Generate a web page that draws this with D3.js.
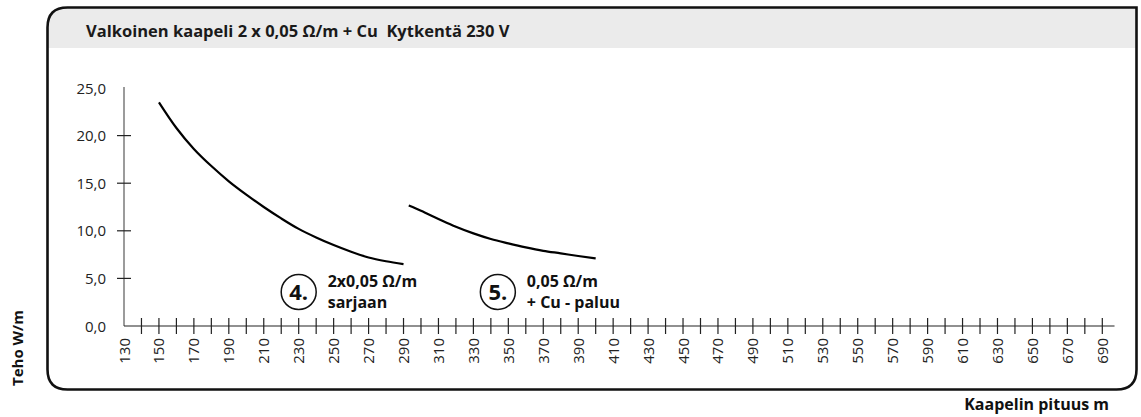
<!DOCTYPE html>
<html>
<head>
<meta charset="utf-8">
<script src="https://cdn.jsdelivr.net/npm/d3@7/dist/d3.min.js"></script>
<style>
  html, body { margin: 0; padding: 0; background: #fff; }
  svg { display: block; font-family: "Open Sans", "Noto Sans", sans-serif; }
  text { white-space: pre; }
</style>
</head>
<body>
<svg id="chart" width="1141" height="417"></svg>
<script>
// Cable length (m) and heating power (W/m) for the two connection options
const series4Length = [150, 160, 170, 180, 190, 200, 210, 220, 230, 240, 250, 260, 270, 280, 290];
const series4Power  = [23.5, 20.8, 18.6, 16.8, 15.2, 13.8, 12.5, 11.3, 10.2, 9.3, 8.5, 7.8, 7.2, 6.8, 6.5];
const series5Length = [293, 300, 310, 320, 330, 340, 350, 360, 370, 380, 390, 400];
const series5Power  = [12.65, 12.1, 11.25, 10.43, 9.73, 9.14, 8.68, 8.26, 7.9, 7.63, 7.35, 7.1];

const yTickValues = [0, 5, 10, 15, 20, 25];
const yTickLabels = ["0,0", "5,0", "10,0", "15,0", "20,0", "25,0"];
const xMinorTicks = d3.range(140, 691, 10);
const xLabelTicks = d3.range(130, 691, 20);

const titleText = "Valkoinen kaapeli 2 x 0,05 \u03A9/m + Cu  Kytkent\u00E4 230 V";
const yAxisTitle = "Teho W/m";
const xAxisTitle = "Kaapelin pituus m";
const notes = [
  { num: "4.", at: 230, lines: ["2x0,05 \u03A9/m", "sarjaan"] },
  { num: "5.", at: 344, lines: ["0,05 \u03A9/m", "+ Cu - paluu"] }
];

const svg = d3.select("#chart");

// Frame: rounded panel with a grey header band
const L = 47.5, T = 7.5, R = 1136.5, B = 389.5, r = 20, headerB = 48;
svg.append("path")
  .attr("d", `M${L},${headerB} V${T + r} Q${L},${T} ${L + r},${T} H${R} V${headerB} Z`)
  .attr("fill", "#ebebeb");
svg.append("path")
  .attr("d", `M${L + r},${T} H${R} V${B - r} Q${R},${B} ${R - r},${B} H${L + r} Q${L},${B} ${L},${B - r} V${T + r} Q${L},${T} ${L + r},${T} Z`)
  .attr("fill", "none").attr("stroke", "#111").attr("stroke-width", 2.6);

svg.append("text")
  .attr("x", 86).attr("y", 37)
  .attr("font-size", 16.5).attr("font-weight", 700).attr("fill", "#1a1a1a")
  .text(titleText);

// Scales
const x = d3.scaleLinear().domain([130, 690]).range([124, 1102.3]);
const y = d3.scaleLinear().domain([0, 25]).range([326, 88]);

// Y axis
svg.append("line")
  .attr("x1", x(130)).attr("x2", x(130)).attr("y1", y(25) - 1).attr("y2", y(0))
  .attr("stroke", "#7a7a7a").attr("stroke-width", 1.5);
svg.selectAll(".ytick").data(yTickValues.filter(v => v > 0 && v < 25))
  .join("line")
  .attr("x1", x(130) - 7).attr("x2", x(130) + 7)
  .attr("y1", d => y(d)).attr("y2", d => y(d))
  .attr("stroke", "#222").attr("stroke-width", 1.2);
svg.selectAll(".ylab").data(yTickValues)
  .join("text")
  .attr("x", 106).attr("y", d => y(d) + 5.5)
  .attr("text-anchor", "end").attr("font-size", 15).attr("fill", "#222")
  .text((d, i) => yTickLabels[i]);

// X axis
svg.append("line")
  .attr("x1", x(130)).attr("x2", x(697)).attr("y1", y(0)).attr("y2", y(0))
  .attr("stroke", "#222").attr("stroke-width", 1.2);
svg.selectAll(".xtick").data(xMinorTicks)
  .join("line")
  .attr("x1", d => x(d)).attr("x2", d => x(d))
  .attr("y1", y(0) - 8).attr("y2", y(0) + 8)
  .attr("stroke", "#222").attr("stroke-width", 1.2);
svg.selectAll(".xlab").data(xLabelTicks)
  .join("text")
  .attr("transform", d => `translate(${x(d) + 5.5},${y(0) + 12}) rotate(-90)`)
  .attr("text-anchor", "end").attr("font-size", 15).attr("fill", "#222")
  .text(d => d);

// Axis titles
svg.append("text")
  .attr("transform", "translate(23,386) rotate(-90)")
  .attr("font-size", 15).attr("font-weight", 700).attr("fill", "#111")
  .text(yAxisTitle);
svg.append("text")
  .attr("x", 1109).attr("y", 410).attr("text-anchor", "end")
  .attr("font-size", 16).attr("font-weight", 700).attr("fill", "#111")
  .text(xAxisTitle);

// Power curves
const line = d3.line().x(d => x(d[0])).y(d => y(d[1])).curve(d3.curveMonotoneX);
[[series4Length, series4Power], [series5Length, series5Power]].forEach(([xs, ys]) => {
  svg.append("path")
    .datum(d3.zip(xs, ys))
    .attr("d", line)
    .attr("fill", "none").attr("stroke", "#000").attr("stroke-width", 2.2);
});

// Numbered notes under the curves
notes.forEach(n => {
  const cx = x(n.at), cy = 292;
  svg.append("circle").attr("cx", cx).attr("cy", cy).attr("r", 17.5)
    .attr("fill", "#fff").attr("stroke", "#111").attr("stroke-width", 1.5);
  svg.append("text").attr("x", cx).attr("y", cy + 8)
    .attr("text-anchor", "middle").attr("font-size", 22).attr("font-weight", 700).attr("fill", "#111")
    .text(n.num);
  n.lines.forEach((t, i) => {
    svg.append("text").attr("x", cx + 29).attr("y", 287 + i * 21)
      .attr("font-size", 16).attr("font-weight", 700).attr("fill", "#111")
      .text(t);
  });
});
</script>
</body>
</html>
